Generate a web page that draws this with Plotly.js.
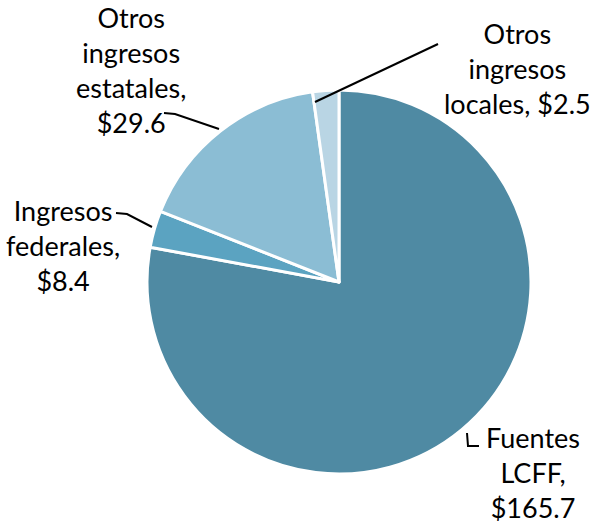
<!DOCTYPE html>
<html>
<head>
<meta charset="utf-8">
<script src="https://cdn.plot.ly/plotly-3.0.1.min.js"></script>
<style>html,body{margin:0;padding:0;background:#fff;}</style>
</head>
<body>
<div id="chart" style="width:600px;height:526px;"></div>
<script>
const categories = ["Fuentes LCFF", "Ingresos federales", "Otros ingresos estatales", "Otros ingresos locales"];
// Dollar amounts as printed in the labels (billions)
const labelAmounts = ["$165.7", "$8.4", "$29.6", "$2.5"];
// Slice shares (%) as drawn in the picture
const sliceShares = [77.9, 3.1, 16.8, 2.2];
const labelTexts = [
  "Fuentes<br>LCFF,<br>" + labelAmounts[0],
  "Ingresos<br>federales,<br>" + labelAmounts[1],
  "Otros<br>ingresos<br>estatales,<br>" + labelAmounts[2],
  "Otros<br>ingresos<br>locales, " + labelAmounts[3]
];
const colors = ["#4F8AA3", "#5BA3C1", "#8BBDD4", "#B9D5E4"];

const W = 600, H = 526;
const px = x => x / W;
const py = y => 1 - y / H;
const cx = 339, cy = 282, R = 192;

// label anchor positions (pixels)
const labelPos = [
  [533, 472],
  [63, 245],
  [131, 70],
  [517, 68]
];

const annotations = labelTexts.map((t, i) => ({
  text: t, xref: 'paper', yref: 'paper',
  x: px(labelPos[i][0]), y: py(labelPos[i][1]),
  xanchor: 'center', yanchor: 'middle', align: 'center',
  showarrow: false,
  font: {family: 'Lato, sans-serif', size: 27, color: '#000'}
}));

function path(pts) {
  return pts.map((p, i) => (i ? 'L' : 'M') + px(p[0]) + ',' + py(p[1])).join(' ');
}
const leaderLines = [
  [[467, 433], [468, 446], [479, 446]],
  [[116, 213], [127, 214], [152, 227]],
  [[164, 113], [175, 114], [219, 129]],
  [[438, 44], [315, 102]]
];
const shapes = leaderLines.map(p => ({
  type: 'path', xref: 'paper', yref: 'paper', path: path(p),
  line: {color: '#000', width: 2}
}));

const trace = {
  type: 'pie',
  labels: categories,
  values: sliceShares,
  sort: false,
  direction: 'clockwise',
  rotation: 0,
  textinfo: 'none',
  hoverinfo: 'label',
  marker: {colors: colors, line: {color: '#fff', width: 3}},
  domain: {x: [px(cx - R), px(cx + R)], y: [py(cy + R), py(cy - R)]}
};

Plotly.newPlot('chart', [trace], {
  width: W, height: H,
  margin: {l: 0, r: 0, t: 0, b: 0},
  showlegend: false,
  paper_bgcolor: '#fff',
  annotations: annotations,
  shapes: shapes
}, {displayModeBar: false, staticPlot: true});
</script>
</body>
</html>
